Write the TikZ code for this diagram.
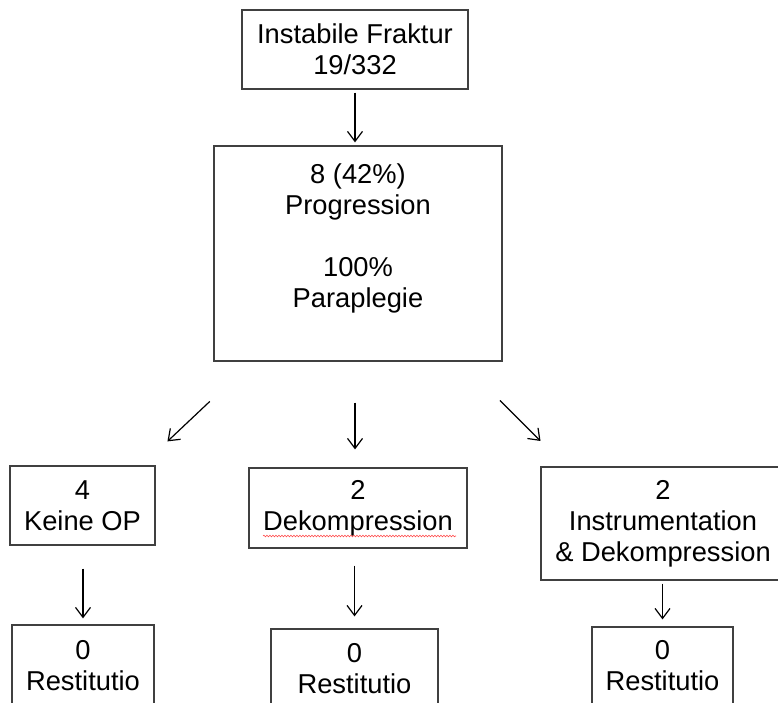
\documentclass[tikz,border=0pt]{standalone}
\usepackage{fontspec}
\setmainfont{Liberation Sans}
\usetikzlibrary{arrows.meta, decorations.pathmorphing, positioning}

\begin{document}
\begin{tikzpicture}[x=1pt, y=-1pt,
    box/.style={draw=black!75, line width=1.2pt, align=center, inner sep=0pt,
      font=\fontsize{27.3}{31}\selectfont},
    arr/.style={-{Straight Barb[length=10pt,width=15pt]}, line width=1.2pt}]
    \clip (0,0) rectangle (778,702);

    % Kopf
    \node[box, minimum width=226pt, minimum height=79pt] (frakt) at (355,49.5) {Instabile Fraktur\\19/332};
    \node[box, minimum width=288pt, minimum height=215pt] (prog) at (358,253.5)
        {8 (42\%)\\Progression\\ \\100\%\\\rule[-35pt]{0pt}{35pt}Paraplegie};

    % Therapie
    \node[box, minimum width=145pt, minimum height=79pt] (keine) at (82.5,505.5) {4\\Keine OP};
    \node[box, minimum width=218pt, minimum height=80pt] (dek) at (358,508) {2\\Dekompression};
    \node[box, minimum width=244pt, minimum height=113pt] (instr) at (663,523.5) {2\\Instrumentation\\\& Dekompression};

    % Ergebnis
    \node[box, minimum width=142pt, minimum height=81.8pt] (restA) at (83,665.9) {0\\Restitutio};
    \node[box, minimum width=167pt, minimum height=79.8pt] (restB) at (354.5,668.9) {0\\Restitutio};
    \node[box, minimum width=141pt, minimum height=77.8pt] (restC) at (662.5,665.9) {0\\Restitutio};

    % Pfeile
    \draw[arr, shorten <=3pt, shorten >=3pt] (frakt.south) -- (frakt.south |- prog.north);
    \draw[arr, shorten <=58pt, shorten >=35pt] ([xshift=-106pt]prog.south) -- ([xshift=59.5pt]keine.north);
    \draw[arr, shorten <=41pt, shorten >=18pt] (prog.south -| frakt.south) -- (dek.north -| frakt.south);
    \draw[arr, shorten <=55pt, shorten >=36pt] ([xshift=103pt]prog.south) -- ([xshift=-97pt]instr.north);
    \draw[arr, shorten <=23pt, shorten >=6pt] (keine.south -| restA.north) -- (restA.north);
    \draw[arr, shorten <=17pt, shorten >=12pt] (dek.south -| restB.north) -- (restB.north);
    \draw[arr, shorten <=3pt, shorten >=7pt] (instr.south -| restC.north) -- (restC.north);

    % Rechtschreibmarkierung
    \draw[red!70, line width=0.6pt, decorate, decoration={snake, amplitude=0.8pt, segment length=3pt}]
        (263,536) -- (456,536);
\end{tikzpicture}
\end{document}
